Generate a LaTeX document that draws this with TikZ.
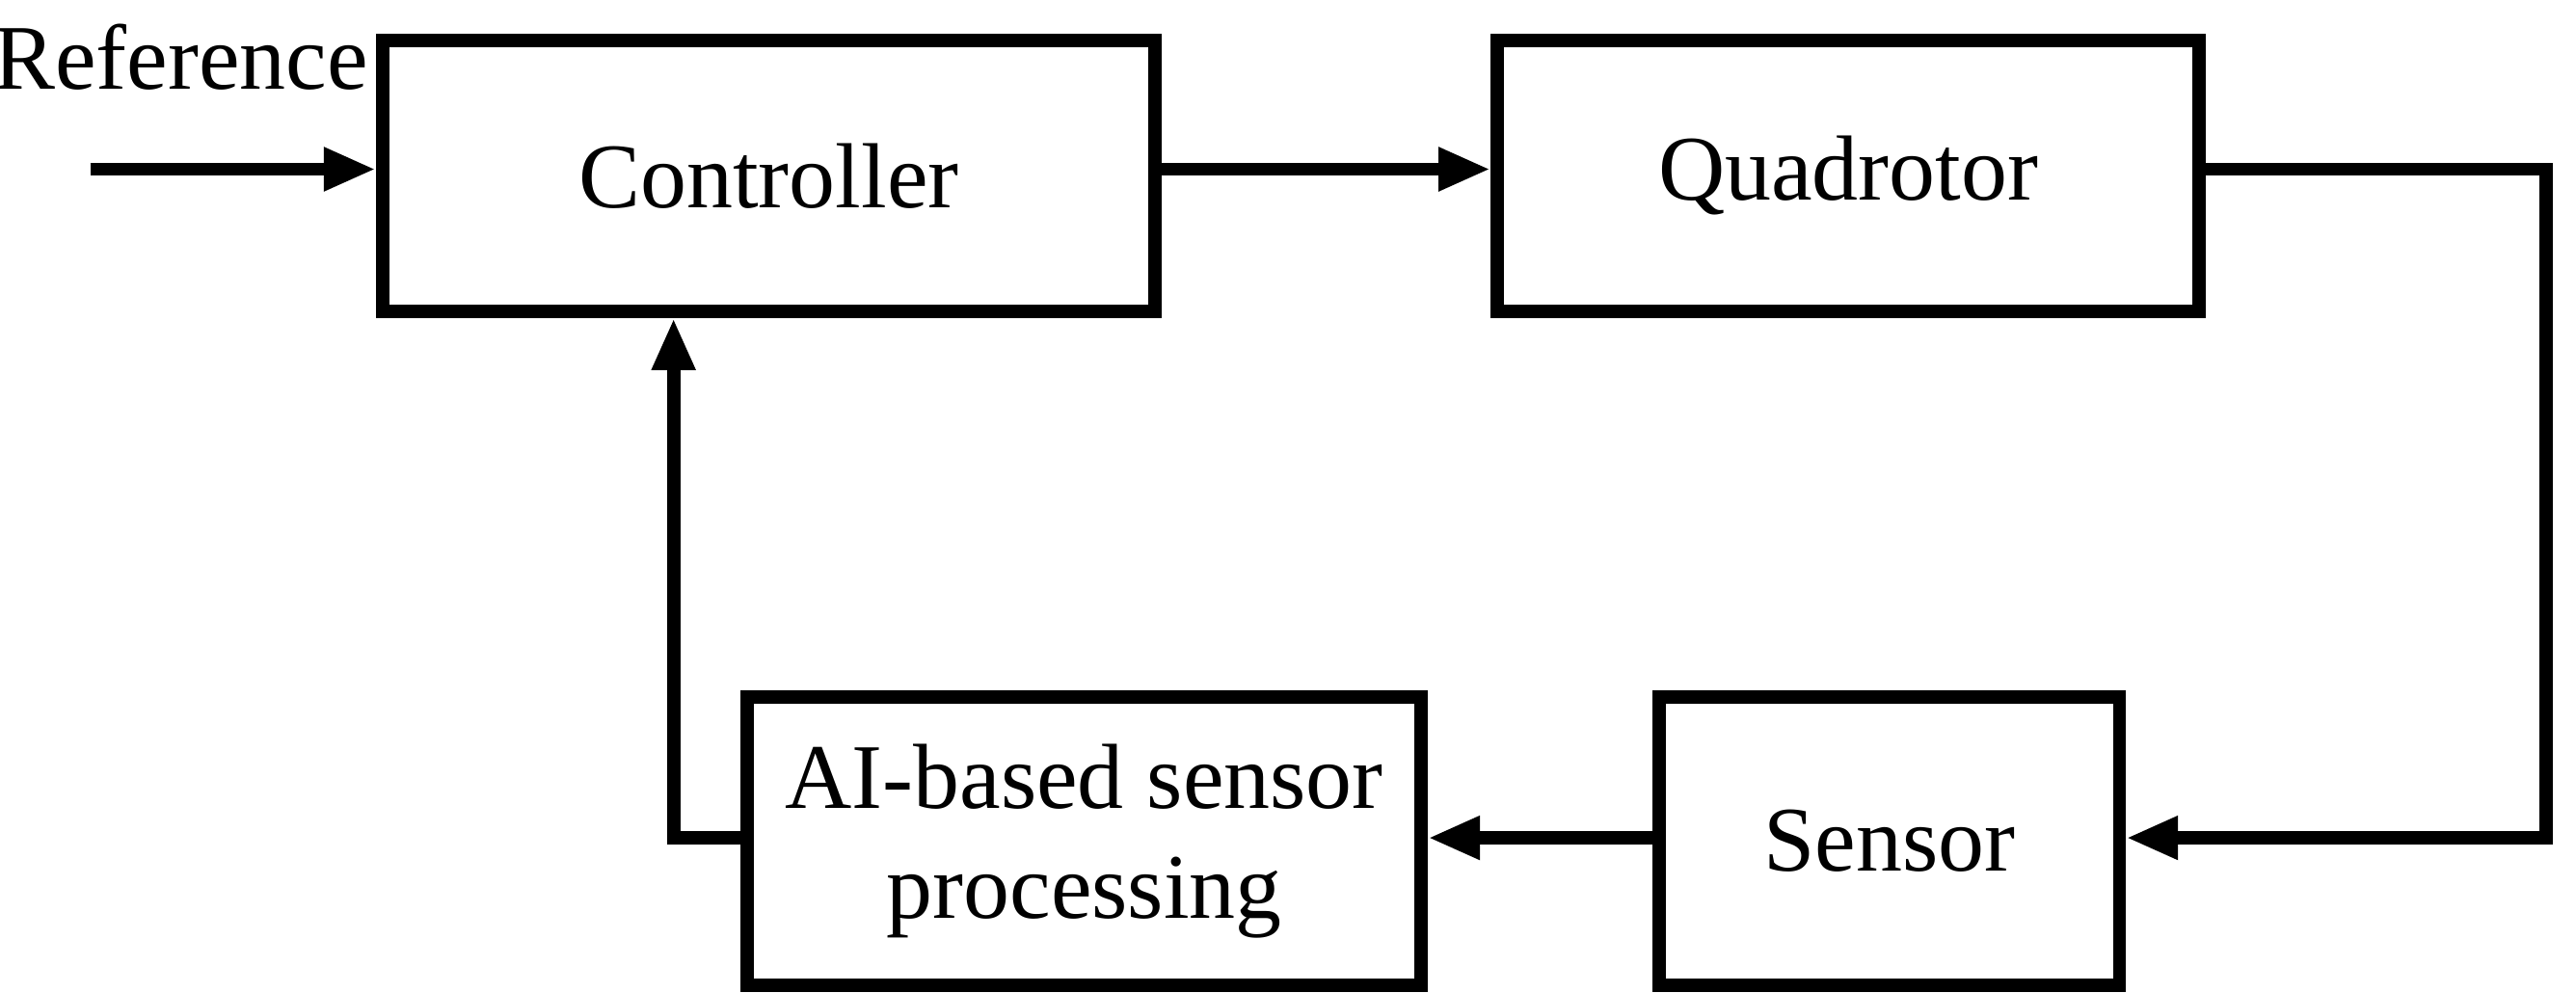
\documentclass[tikz,border=0pt]{standalone}
\usepackage{fontspec}
\setmainfont{Liberation Serif}
\usetikzlibrary{arrows.meta}
\begin{document}
\begin{tikzpicture}[x=0.01cm,y=-0.01cm,
  blk/.style={draw,line width=2.3pt,inner sep=0pt,font=\fontsize{16pt}{19pt}\selectfont,align=center},
  ar/.style={line width=2.3pt,-{Triangle[length=9pt,width=7pt]}}]
\useasboundingbox (0,0) rectangle (1568,604);
\node[blk,minimum width=4.7cm,minimum height=1.65cm] (ctrl) at (468,107) {Controller};
\node[blk,minimum width=4.27cm,minimum height=1.65cm] (quad) at (1125,107) {Quadrotor};
\node[blk,minimum width=4.1cm,minimum height=1.75cm] (ai) at (660,512) {AI-based sensor\\processing};
\node[blk,minimum width=2.8cm,minimum height=1.75cm] (sen) at (1150,512) {Sensor};
\node[font=\fontsize{16pt}{19pt}\selectfont] (ref) at (110,35) {Reference};
\coordinate (in) at (55,103);
\coordinate (r1) at (1550,103);
\coordinate (r2) at (1550,510);
\coordinate (l1) at (410,510);
\draw[ar] (in) -- (in -| ctrl.west);
\draw[ar] (ctrl.east |- in) -- (quad.west |- in);
\draw[ar] (quad.east |- r1) -- (r1) -- (r2) -- (sen.east |- r2);
\draw[ar] (sen.west |- r2) -- (ai.east |- r2);
\draw[ar] (ai.west |- l1) -- (l1) -- (l1 |- ctrl.south);
\end{tikzpicture}
\end{document}
